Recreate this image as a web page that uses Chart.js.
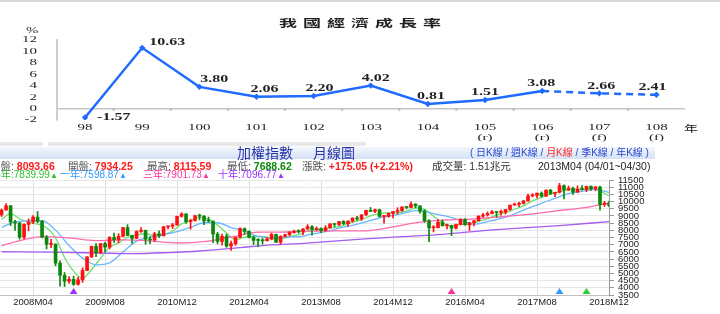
<!DOCTYPE html>
<html><head><meta charset="utf-8">
<script src="https://cdn.jsdelivr.net/npm/chart.js@4/dist/chart.umd.min.js"></script>
<style>
html,body{margin:0;padding:0;background:#fff;}
#wrap{position:relative;width:720px;height:314px;overflow:hidden;background:#fff;font-family:"Liberation Sans","Noto Sans CJK TC",sans-serif;}
.abs{position:absolute;white-space:nowrap;}
canvas{position:absolute;}
.info{top:160px;font-size:10.5px;line-height:12px;color:#555;}
.info b{font-weight:700;}
.r{color:#ff1a1a;} .g{color:#0a8a0a;}
.ma{top:169px;font-size:10px;line-height:12px;}
.tri{font-size:8px;}
</style></head>
<body><div id="wrap">
<div class="abs" style="left:0;top:0;width:720px;height:2px;background:#d8d8d8"></div>
<canvas id="gdp" width="720" height="145" style="left:0;top:0"></canvas>
<div class="abs" style="left:0;top:13px;width:726px;text-align:center;font:700 18px/18px 'Noto Sans CJK TC',sans-serif;letter-spacing:6px;color:#222;transform:scaleY(0.6);">我國經濟成長率</div>
<div class="abs" style="left:26px;top:23px;font:15px/15px 'Liberation Serif',serif;color:#222;transform:scaleY(0.6);">%</div>
<div class="abs" style="left:684px;top:121px;font:14px/14px 'Noto Sans CJK TC',sans-serif;color:#222;transform:scaleY(0.65);">年</div>

<div class="abs" style="left:0;top:142px;width:43px;height:4px;background:#e8e8e8"></div>
<div class="abs" style="left:48px;top:142px;width:318px;height:4px;background:#e8e8e8"></div>
<div class="abs" style="left:0;top:147px;width:655px;height:12px;background:linear-gradient(#f3f7fc,#d4e1f4)"></div>
<div class="abs" style="left:237px;top:145px;font:14px/14px 'Noto Sans CJK TC',sans-serif;color:#2833a8;">加權指數</div>
<div class="abs" style="left:313px;top:145px;font:14px/14px 'Noto Sans CJK TC',sans-serif;color:#2833a8;">月線圖</div>
<div class="abs" style="left:470px;top:147px;font:10px/12px 'Liberation Sans','Noto Sans CJK TC',sans-serif;color:#2a48d0;">( 日K線 / 週K線 / <span style="color:#ff2a2a">月K線</span> / 季K線 / 年K線 )</div>

<div class="abs info" style="left:-10px">收盤: <b class="r">8093.66</b></div>
<div class="abs info" style="left:68px">開盤: <b class="r">7934.25</b></div>
<div class="abs info" style="left:147px">最高: <b class="r">8115.59</b></div>
<div class="abs info" style="left:227px">最低: <b class="g">7688.62</b></div>
<div class="abs info" style="left:302px">漲跌: <b class="r">+175.05 (+2.21%)</b></div>
<div class="abs info" style="left:432px;color:#333">成交量: 1.51兆元</div>
<div class="abs info" style="left:538px;color:#222">2013M04 (04/01~04/30)</div>

<canvas id="k" width="720" height="144" style="left:0;top:170px"></canvas>

<div class="abs ma" style="left:-9px;color:#2fbf2f">半年:7839.99<span class="tri">▲</span></div>
<div class="abs ma" style="left:60px;color:#3399ff">一年:7598.87<span class="tri">▲</span></div>
<div class="abs ma" style="left:143px;color:#ff3399">三年:7901.73<span class="tri">▲</span></div>
<div class="abs ma" style="left:218px;color:#9933ff">十年:7096.77<span class="tri">▲</span></div>
</div>
<script>
// ---------- Economic growth data ----------
const years = ["98","99","100","101","102","103","104","105","106","107","108"];
const yearNotes = ["","","","","","","","(r)","(r)","(f)","(f)"];
const growth = [-1.57, 10.63, 3.80, 2.06, 2.20, 4.02, 0.81, 1.51, 3.08, 2.66, 2.41];
const growthTicks = [-2, 0, 2, 4, 6, 8, 10, 12];
const forecastStart = 8; // from 106 onward the line is dashed

// ---------- TAIEX monthly candles (from 2007M09) ----------
const firstMonth = [2007, 9];
const openP = [
 9075, 9411, 9711, 8586,
 8506, 7521, 8412, 8572, 8919, 8619, 7523, 7024, 7046, 5719, 4870, 4460,
 4591, 4248, 4557, 5210, 6148, 6890, 6432, 7078, 6826, 7509, 7340, 7582,
 8188, 7640, 7436, 7920, 8004, 7374, 7329, 7761, 7616, 8238, 8287, 8372,
 8973, 9145, 8600, 8683, 9008, 8988, 8653, 8644, 7741, 7225, 7588, 6904,
 7072, 7517, 8121, 7933, 7501, 7301, 7296, 7270, 7397, 7715, 7166, 7580,
 7700, 7850, 7942, 7934, 8094, 8254, 8062, 8108, 7981, 8173, 8450, 8407,
 8612, 8462, 8640, 8849, 8792, 9075, 9393, 9315, 9436, 8966, 8974, 9187,
 9307, 9362, 9622, 9586, 9820, 9701, 9323, 8665, 8175, 8181, 8554, 8320,
 8338, 8145, 8411, 8745, 8377, 8536, 8666, 8984, 9069, 9166, 9290, 9240,
 9254, 9448, 9751, 9812, 9872, 10041, 10395, 10427, 10586, 10384, 10794, 10560,
 10643, 11104, 10815, 10919, 10657, 10875, 10837, 11057, 10888, 11006, 9802, 9888];
const highP = [
 9475, 9859, 9720, 8700,
 8550, 8443, 8797, 9021, 9309, 8697, 7637, 7376, 7049, 5872, 5062, 4778,
 4817, 4740, 5393, 6179, 6890, 7084, 7078, 7164, 7560, 7811, 7772, 8207,
 8395, 7640, 7970, 8190, 8010, 7542, 7861, 7965, 8286, 8311, 8487, 8990,
 9220, 9146, 8780, 9063, 9127, 9023, 8920, 8647, 7851, 7736, 7740, 7246,
 7523, 8170, 8170, 7966, 7584, 7430, 7428, 7526, 7806, 7736, 7626, 7720,
 7919, 8020, 8035, 8116, 8396, 8321, 8242, 8178, 8329, 8450, 8466, 8623,
 8674, 8657, 8867, 8966, 9100, 9397, 9593, 9485, 9470, 8985, 9213, 9307,
 9574, 9626, 9666, 9973, 9860, 9707, 9433, 8746, 8328, 8746, 8726, 8427,
 8364, 8431, 8821, 8810, 8563, 8702, 9019, 9187, 9282, 9391, 9298, 9401,
 9450, 9759, 9900, 9972, 10082, 10514, 10559, 10588, 10674, 10819, 10854, 10659,
 11270, 11164, 11083, 11015, 11092, 11105, 11071, 11098, 11063, 11069, 10013, 10040];
const lowP = [
 8960, 9400, 8322, 7985,
 7384, 7408, 7963, 8467, 8521, 7470, 6708, 6797, 5530, 4110, 4089, 4303,
 4164, 4178, 4375, 5190, 6112, 6170, 6362, 6484, 6710, 7160, 7140, 7545,
 7640, 7080, 7430, 7860, 7032, 7071, 7230, 7490, 7610, 8093, 8122, 8365,
 8914, 8487, 8070, 8640, 8727, 8400, 8566, 7148, 7060, 6972, 6813, 6609,
 6952, 7480, 7722, 7466, 7010, 6857, 7040, 7260, 7334, 7166, 7031, 7523,
 7610, 7803, 7803, 7689, 8064, 7665, 7986, 7833, 7941, 8157, 8238, 8316,
 8400, 8265, 8570, 8692, 8692, 9037, 9293, 9219, 8913, 8501, 8907, 8863,
 9139, 9323, 9485, 9568, 9562, 9195, 8561, 7203, 7885, 8170, 8289, 8094,
 7627, 8100, 8361, 8350, 7996, 8311, 8634, 8900, 8985, 9145, 8902, 9050,
 9127, 9395, 9732, 9650, 9820, 10030, 10328, 10252, 10312, 10366, 10481, 10348,
 10600, 10189, 10765, 10492, 10617, 10787, 10691, 10768, 10744, 9400, 9655, 9640];
const closeP = [
 9411, 9711, 8586, 8506,
 7521, 8412, 8572, 8919, 8619, 7523, 7024, 7046, 5719, 4870, 4460, 4591,
 4248, 4557, 5210, 6148, 6890, 6432, 7078, 6826, 7509, 7340, 7582, 8188,
 7640, 7436, 7920, 8004, 7374, 7329, 7761, 7616, 8238, 8287, 8372, 8973,
 9145, 8600, 8683, 9008, 8988, 8653, 8644, 7741, 7225, 7588, 6904, 7072,
 7517, 8121, 7933, 7501, 7301, 7296, 7270, 7397, 7715, 7166, 7580, 7700,
 7850, 7942, 7919, 8094, 8254, 8062, 8108, 7981, 8173, 8450, 8407, 8612,
 8462, 8640, 8849, 8792, 9075, 9393, 9315, 9436, 8966, 8974, 9187, 9307,
 9362, 9622, 9586, 9820, 9701, 9323, 8665, 8175, 8181, 8554, 8320, 8338,
 8145, 8411, 8745, 8377, 8536, 8666, 8984, 9069, 9166, 9290, 9240, 9254,
 9448, 9751, 9812, 9872, 10041, 10395, 10427, 10586, 10384, 10794, 10560, 10643,
 11104, 10815, 10919, 10657, 10875, 10837, 11057, 10888, 11006, 9802, 9888, 9727];

// moving averages: [month, value]
const ma6 = [["2007M09",8779],["2007M11",9159],["2008M01",8802],["2008M03",8551],["2008M05",8425],["2008M07",8178],["2008M09",7475],["2008M11",6107],["2009M01",5156],["2009M03",4656],["2009M05",5274],["2009M07",6053],["2009M09",6814],["2009M11",7128],["2010M01",7514],["2010M03",7684],["2010M05",7760],["2010M07",7637],["2010M09",7720],["2010M11",7934],["2011M01",8439],["2011M03",8677],["2011M05",8900],["2011M07",8763],["2011M09",8377],["2011M11",7793],["2012M01",7341],["2012M03",7523],["2012M05",7574],["2012M07",7570],["2012M09",7413],["2012M11",7404],["2013M01",7568],["2013M03",7693],["2013M05",7960],["2013M07",8063],["2013M09",8112],["2013M11",8197],["2014M01",8348],["2014M03",8570],["2014M05",8738],["2014M07",9011],["2014M09",9163],["2014M11",9212],["2015M01",9205],["2015M03",9340],["2015M05",9566],["2015M07",9453],["2015M09",8978],["2015M11",8536],["2016M01",8286],["2016M03",8419],["2016M05",8425],["2016M07",8620],["2016M09",8800],["2016M11",9069],["2017M01",9245],["2017M03",9466],["2017M05",9696],["2017M07",10050],["2017M09",10284],["2017M11",10524],["2018M01",10679],["2018M03",10806],["2018M05",10836],["2018M07",10860],["2018M09",10887],["2018M10",10744],["2018M11",10580],["2018M12",10395]];
const ma12 = [["2007M09",8214],["2007M12",8580],["2008M03",8665],["2008M06",8679],["2008M09",8013],["2008M12",6940],["2009M03",6066],["2009M06",5600],["2009M09",5735],["2009M12",6501],["2010M03",7249],["2010M06",7519],["2010M09",7702],["2010M12",7913],["2011M03",8199],["2011M06",8527],["2011M09",8527],["2011M12",8188],["2012M03",7950],["2012M06",7570],["2012M09",7468],["2012M12",7541],["2013M03",7553],["2013M06",7746],["2013M09",7902],["2013M12",8154],["2014M03",8341],["2014M06",8579],["2014M09",8866],["2014M12",9033],["2015M03",9251],["2015M06",9383],["2015M09",9159],["2015M12",8971],["2016M03",8698],["2016M06",8426],["2016M09",8609],["2016M12",8824],["2017M03",9133],["2017M06",9527],["2017M09",9875],["2017M12",10226],["2018M03",10545],["2018M06",10717],["2018M09",10846],["2018M12",10631]];
const ma36 = [["2007M09",6936],["2007M12",7189],["2008M06",7558],["2008M12",7467],["2009M06",7280],["2009M12",7340],["2010M06",7266],["2010M12",7118],["2011M06",7215],["2011M12",7534],["2012M06",7872],["2012M12",7881],["2013M06",7948],["2013M12",7961],["2014M06",7965],["2014M12",8243],["2015M06",8569],["2015M12",8719],["2016M06",8796],["2016M12",8942],["2017M06",9112],["2017M12",9340],["2018M06",9557],["2018M12",9894]];
const ma120 = [["2007M09",6510],["2008M08",6480],["2009M07",6420],["2010M02",6380],["2010M10",6450],["2011M05",6560],["2012M02",6800],["2012M09",6980],["2013M04",7097],["2013M10",7230],["2014M05",7380],["2015M02",7560],["2015M11",7720],["2016M09",8000],["2017M04",8150],["2018M01",8330],["2018M12",8600]];

const xTickMonths = ["2008M04","2009M08","2010M12","2012M04","2013M08","2014M12","2016M04","2017M08","2018M12"];
const priceTicks = [3500,4000,4500,5000,5500,6000,6500,7000,7500,8000,8500,9000,9500,10000,10500,11000,11500];
const markers = [["2009M01","#9933ff"],["2016M01","#ff3399"],["2018M01","#3399ff"],["2018M07","#33cc33"]];

// ---------- top chart ----------
const SQ = 0.6;
const labelDx = [12, 7, 15, 8, 6, 5, 3, 0, -1, 2, -4];
function sqText(ctx, s, x, y, font, align){
  ctx.save(); ctx.translate(x, y); ctx.scale(1, SQ);
  ctx.font = font; ctx.textAlign = align; ctx.textBaseline = 'middle';
  ctx.fillText(s, 0, 0); ctx.restore();
}
const gdpText = {
  id: 'gdpText',
  afterDraw(chart){
    const ctx = chart.ctx, xs = chart.scales.x, ys = chart.scales.y;
    ctx.save();
    const zy = ys.getPixelForValue(0);
    ctx.fillStyle = '#b0b0b0';
    for (let i = 0; i < years.length - 1; i++){
      const bx = (xs.getPixelForValue(i) + xs.getPixelForValue(i+1)) / 2;
      ctx.fillRect(bx - 1, zy, 2, 2);
    }
    ctx.fillStyle = '#222';
    growthTicks.forEach(v => sqText(ctx, String(v), ys.right - 19.5, ys.getPixelForValue(v), '15px "Liberation Serif"', 'right'));
    years.forEach((y, i) => {
      const x = xs.getPixelForValue(i);
      sqText(ctx, y, x, 128, '15px "Liberation Serif"', 'center');
      if (yearNotes[i]) sqText(ctx, yearNotes[i], x, 137.5, '15px "Liberation Serif"', 'center');
    });
    const meta = chart.getDatasetMeta(0);
    const maxV = Math.max(...growth);
    meta.data.forEach((pt, i) => {
      const v = growth[i], t = v.toFixed(2);
      if (v < 0) sqText(ctx, t, pt.x + labelDx[i], pt.y, 'bold 16px "Liberation Serif"', 'left');
      else if (v === maxV) sqText(ctx, t, pt.x + labelDx[i], pt.y - 5, 'bold 16px "Liberation Serif"', 'left');
      else sqText(ctx, t, pt.x + labelDx[i], pt.y - 7, 'bold 16px "Liberation Serif"', 'center');
    });
    ctx.restore();
  }
};
new Chart(document.getElementById('gdp'), {
  type: 'line',
  data: { labels: years, datasets: [{
    data: growth, borderColor: '#1f6bff', backgroundColor: '#1f6bff', borderWidth: 2.5,
    pointStyle: 'rectRot', pointRadius: 3.2, pointBorderWidth: 0, tension: 0,
    segment: { borderDash: c => c.p0DataIndex >= forecastStart ? [7, 5] : undefined }
  }]},
  options: {
    responsive: false, animation: false, events: [],
    layout: { padding: { left: 0, right: 35, top: 40, bottom: 0 } },
    plugins: { legend: { display: false }, tooltip: { enabled: false } },
    scales: {
      x: { offset: true, grid: { display: false, drawTicks: false }, border: { display: false },
           ticks: { display: false }, afterFit: s => { s.height = 25; } },
      y: { min: -2, max: 12,
           afterBuildTicks: s => { s.ticks = growthTicks.map(v => ({ value: v })); },
           grid: { drawTicks: false, lineWidth: 1.5, color: c => (c.tick && c.tick.value === 0) ? '#c4c4c4' : 'rgba(0,0,0,0)' },
           border: { display: true, color: '#cdcdcd', width: 2 },
           ticks: { display: false }, afterFit: s => { s.width = 56.5; } }
    }
  },
  plugins: [gdpText]
});

// ---------- bottom candlestick chart ----------
const months = closeP.map((_, i) => {
  const m = firstMonth[1] - 1 + i;
  return (firstMonth[0] + Math.floor(m / 12)) + 'M' + String(m % 12 + 1).padStart(2, '0');
});
const candleColor = closeP.map((c, i) => c >= openP[i] ? '#ff1010' : '#0c870c');
const toPts = arr => arr.map(([m, v]) => ({ x: months.indexOf(m), y: v }));
const markerPlugin = {
  id: 'markers',
  afterDatasetsDraw(chart){
    const ctx = chart.ctx, xs = chart.scales.x, b = chart.chartArea.bottom - 1;
    ctx.save();
    markers.forEach(([m, col]) => {
      const x = xs.getPixelForValue(months.indexOf(m));
      ctx.fillStyle = col; ctx.beginPath();
      ctx.moveTo(x, b - 6); ctx.lineTo(x - 4, b); ctx.lineTo(x + 4, b); ctx.closePath(); ctx.fill();
    });
    ctx.restore();
  }
};
const lineDs = (arr, col) => ({ type: 'line', data: toPts(arr), borderColor: col, borderWidth: 1.3,
  pointRadius: 0, cubicInterpolationMode: 'monotone', order: 10 });
new Chart(document.getElementById('k'), {
  type: 'bar',
  data: { datasets: [
    lineDs(ma120, '#a45cf2'),
    lineDs(ma36, '#ff6cae'),
    lineDs(ma12, '#6ab6ff'),
    lineDs(ma6, '#6fe06f'),
    { data: months.map((m, i) => ({ x: i, y: [lowP[i], highP[i]] })), backgroundColor: candleColor,
      barThickness: 1, grouped: false, order: 3 },
    { data: months.map((m, i) => ({ x: i, y: [openP[i], closeP[i]] })), backgroundColor: candleColor,
      barThickness: 3, minBarLength: 1, grouped: false, order: 2 }
  ]},
  options: {
    responsive: false, animation: false, events: [],
    layout: { padding: { left: 0, right: 0, top: 10, bottom: 0 } },
    plugins: { legend: { display: false }, tooltip: { enabled: false } },
    scales: {
      x: { type: 'linear', min: -0.35, max: 135, offset: false,
           afterBuildTicks: s => { s.ticks = xTickMonths.map(m => ({ value: months.indexOf(m) })); },
           grid: { offset: false, color: '#dedede', drawTicks: false },
           border: { display: true, color: '#c0c0c0' },
           ticks: { autoSkip: false, maxRotation: 0, padding: 2, color: '#222',
                    font: { family: 'Liberation Sans', size: 9.5 }, callback: v => months[v] },
           afterFit: s => { s.height = 19; } },
      y: { position: 'right', min: 3500, max: 11500,
           afterBuildTicks: s => { s.ticks = priceTicks.map(v => ({ value: v })); },
           grid: { color: '#e6e6e6', tickColor: '#999', tickLength: 5 },
           border: { display: true, color: '#999' },
           ticks: { autoSkip: false, padding: 4, color: '#222', font: { family: 'Liberation Sans', size: 9.5 },
                    callback: v => String(v) },
           afterFit: s => { s.width = 111; } }
    }
  },
  plugins: [markerPlugin]
});
</script>
</body></html>
